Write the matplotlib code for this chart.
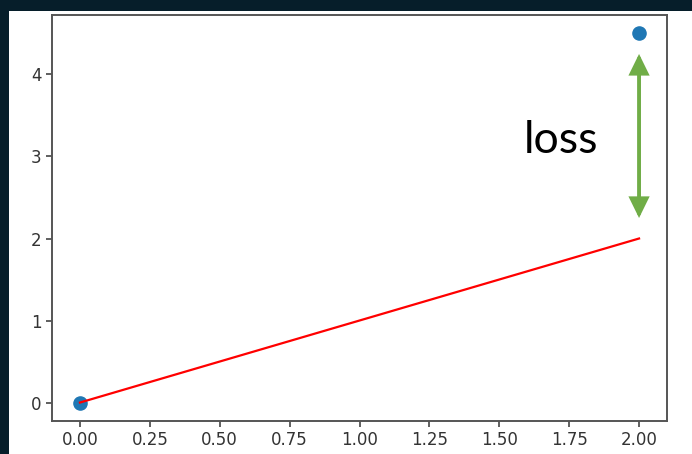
import matplotlib.pyplot as plt
from matplotlib.patches import Rectangle

# data
point_x = [0, 2]
point_y = [0, 4.5]
line_x = [0, 2]
line_y = [0, 2]
arrow_x = 2.0
arrow_top = 4.25
arrow_bottom = 2.25
label_text = 'loss'
label_pos = (1.72, 3.2)

fig = plt.figure(figsize=(6.92, 4.54), dpi=100, facecolor='#061e2a')

# white slide area behind the plot
fig.add_artist(Rectangle((9 / 692, 0), 1, 1 - 11 / 454, transform=fig.transFigure,
                         facecolor='white', edgecolor='none', zorder=0))

ax = fig.add_axes([52 / 692, 1 - 421 / 454, (667 - 52) / 692, (421 - 15) / 454])
ax.set_facecolor('white')

ax.scatter(point_x, point_y, s=90, color='#1f77b4', zorder=2)
ax.plot(line_x, line_y, color='red', linewidth=1.6, zorder=3)

ax.annotate('', xy=(arrow_x, arrow_top), xytext=(arrow_x, arrow_bottom),
            arrowprops=dict(arrowstyle='<|-|>,head_width=0.27,head_length=0.55',
                            color='#70ad47', lw=2.8, mutation_scale=20,
                            shrinkA=0, shrinkB=0, joinstyle='miter'))
ax.text(label_pos[0], label_pos[1], label_text, fontsize=32, family='Lato',
        ha='center', va='center', color='black')

ax.set_xticks([0, 0.25, 0.5, 0.75, 1.0, 1.25, 1.5, 1.75, 2.0])
ax.set_xticklabels(['0.00', '0.25', '0.50', '0.75', '1.00', '1.25', '1.50', '1.75', '2.00'])
ax.set_yticks([0, 1, 2, 3, 4])
ax.set_xlim(-0.1, 2.1)
ax.set_ylim(-0.225, 4.725)

ax.tick_params(labelsize=12, length=4, width=1.2, color='#444444', labelcolor='#333333')
for s in ax.spines.values():
    s.set_color('#555555')
    s.set_linewidth(1.4)

plt.savefig('out.png', dpi=100, facecolor=fig.get_facecolor())
plt.close()
